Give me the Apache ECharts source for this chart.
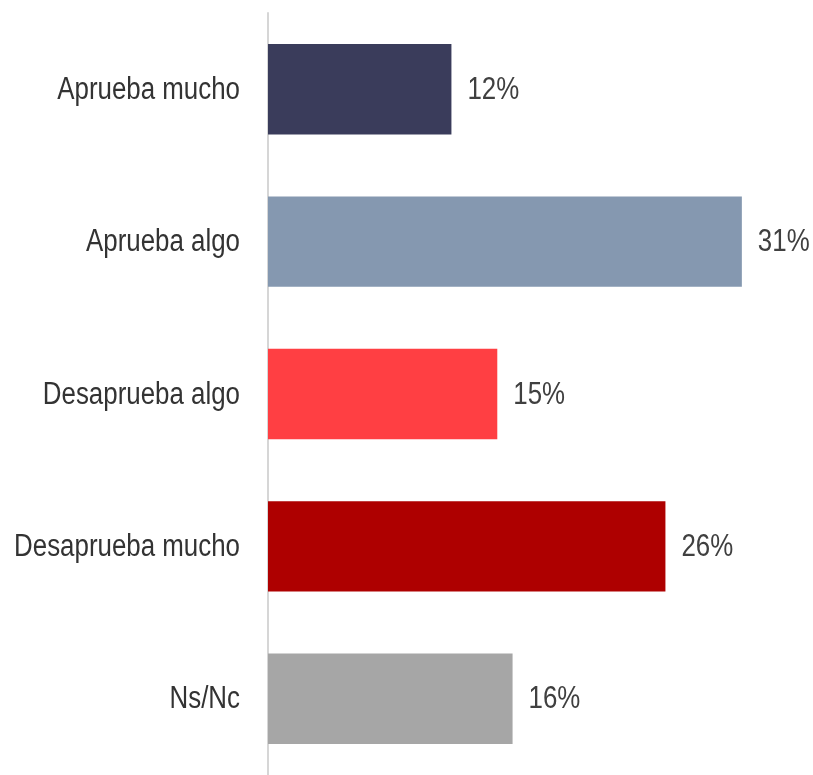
<!DOCTYPE html>
<html><head><meta charset="utf-8">
<script src="https://cdn.jsdelivr.net/npm/echarts@6/dist/echarts.min.js"></script>
<style>html,body{margin:0;padding:0;background:#fff}#c{width:813px;height:775px}</style>
</head><body><div id="c"></div>
<script>
const categories = ["Aprueba mucho", "Aprueba algo", "Desaprueba algo", "Desaprueba mucho", "Ns/Nc"];
const values = [12, 31, 15, 26, 16];
const colors = ["#3a3c5b", "#8598b0", "#ff3f43", "#ae0000", "#a6a6a6"];
const FONT = "'Liberation Sans', Arial, sans-serif";
const FS = 31, SX = 0.835;
const chart = echarts.init(document.getElementById('c'), null, {renderer: 'canvas'});
const pts = values.map((v, i) => [v, i]);
chart.setOption({
  animation: false,
  grid: {left: 268, top: 13, width: 535, height: 767, containLabel: false},
  xAxis: {type: 'value', min: 0, max: 35, show: false},
  yAxis: {
    type: 'category', data: categories, inverse: true,
    axisLine: {show: true, lineStyle: {color: '#d6d6d6', width: 2}},
    axisTick: {show: false},
    axisLabel: {show: false}
  },
  series: [{
    type: 'bar', barCategoryGap: '40.7%',
    data: values.map((v, i) => ({value: v, itemStyle: {color: colors[i]}}))
  }, {
    type: 'custom', clip: false, silent: true,
    encode: {x: 0, y: 1},
    data: pts,
    renderItem: function (params, api) {
      const v = api.value(0), i = api.value(1);
      const end = api.coord([v, i]);
      const start = api.coord([0, i]);
      return {type: 'group', children: [
        {type: 'text', x: end[0] + 16, y: end[1] + 1, scaleX: SX,
         style: {text: v + '%', fontSize: FS, fontFamily: FONT, fill: '#404040', align: 'left', verticalAlign: 'middle'}},
        {type: 'text', x: start[0] - 28, y: start[1] + 1, scaleX: SX,
         style: {text: categories[i], fontSize: FS, fontFamily: FONT, fill: '#333333', align: 'right', verticalAlign: 'middle'}}
      ]};
    }
  }]
});
</script></body></html>
